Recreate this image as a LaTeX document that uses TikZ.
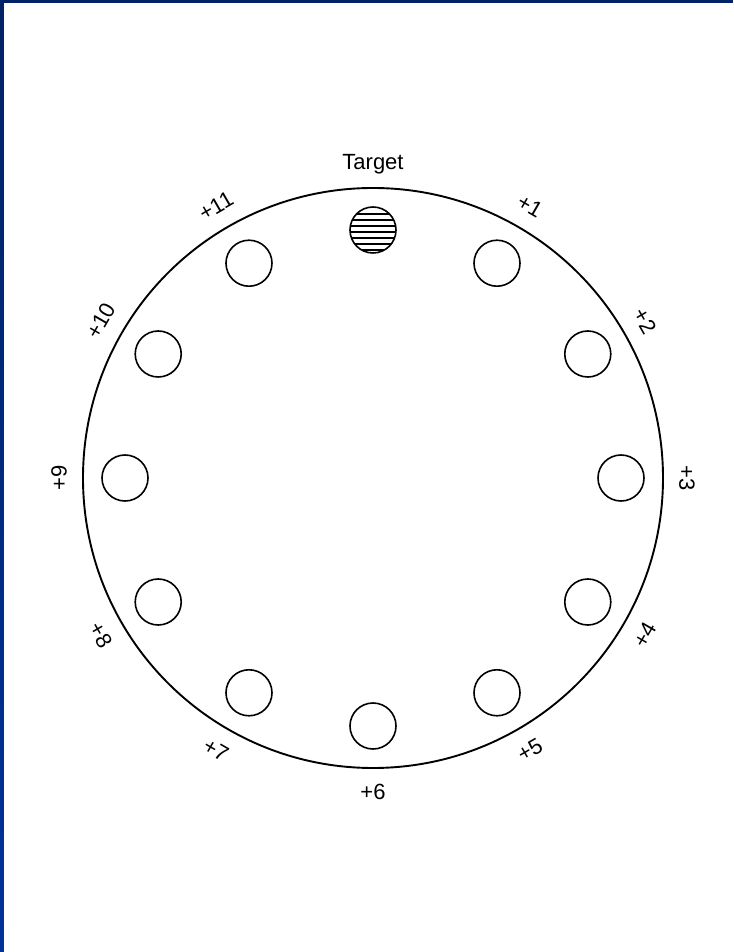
\documentclass[tikz,border=0pt]{standalone}
\usepackage{fontspec}
\setmainfont{Liberation Sans}
\definecolor{navy}{RGB}{0,34,102}
\definecolor{royal}{RGB}{0,51,153}
\begin{document}
\begin{tikzpicture}[x=1pt,y=1pt,line width=1.6pt,
  hole/.style={draw,circle,minimum size=46pt,inner sep=0pt},
  lbl/.style={font=\fontsize{22}{26}\selectfont,inner sep=0pt}]
 \useasboundingbox (-373,478) rectangle (360,-474);
 \fill[navy] (-373,478) rectangle (360,475);
 \shade[top color=navy,bottom color=royal] (-373,478) rectangle (-369,-474);
 \node[draw,circle,minimum size=580pt,inner sep=0pt,line width=1.9pt] (plate) at (0,0) {};
 \node[hole] (h0) at (90:248) {};
 \begin{scope}
  \clip (h0.center) circle (23);
  \foreach \y in {16,10,...,-20}
   \draw[line width=1.3pt] ([yshift=\y] h0.west) -- ([yshift=\y] h0.east);
 \end{scope}
 \node[lbl] (t0) at (90:314) {Target};
 \foreach \i/\r in {1/-30,2/-60,3/-90,4/60,5/30,6/0,7/-30,8/-60,9/90,10/60,11/30} {
  \node[hole] (h\i) at (90-30*\i:248) {};
  \node[lbl,rotate=\r] (t\i) at (90-30*\i:314) {+\i};
 }
\end{tikzpicture}
\end{document}
